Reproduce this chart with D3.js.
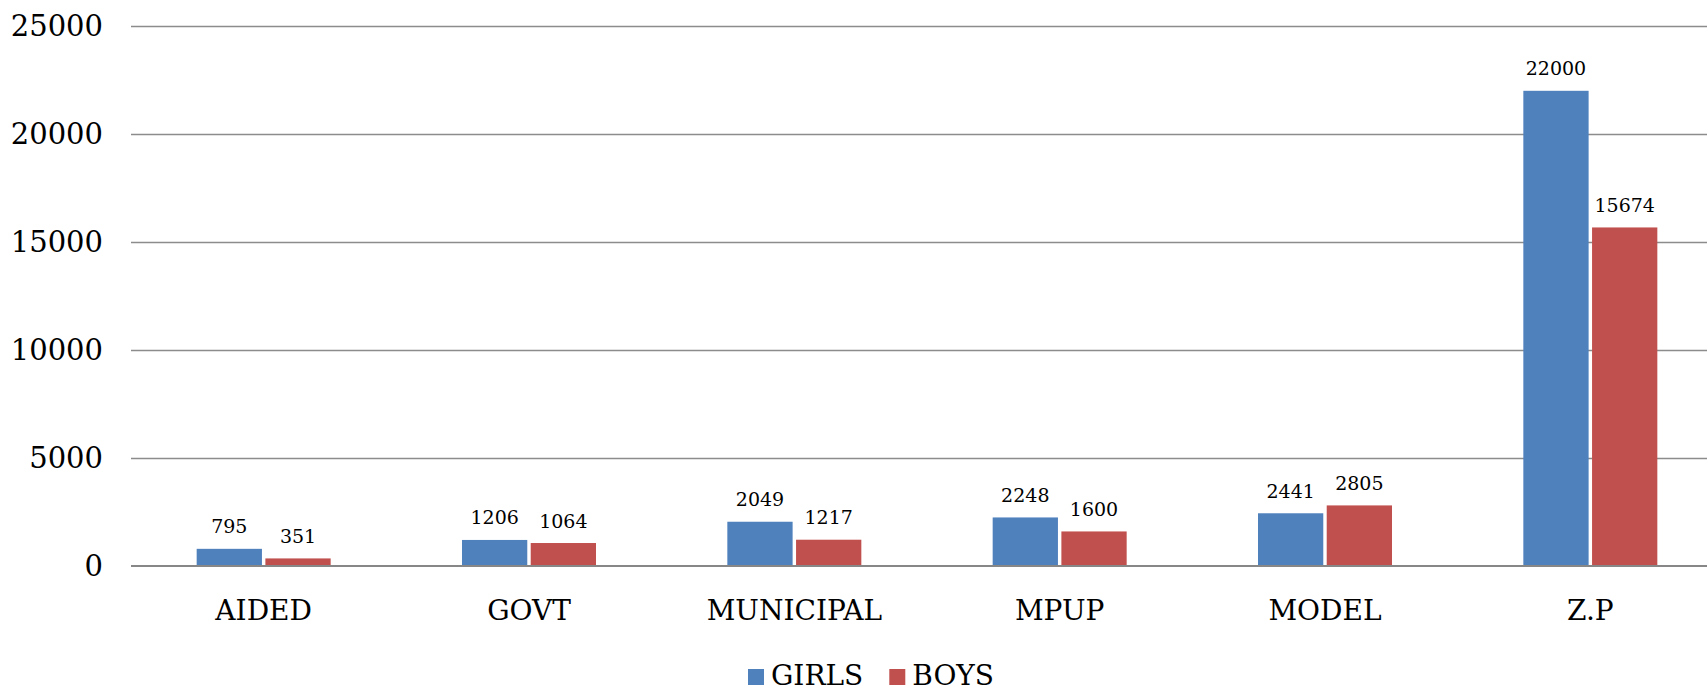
<!DOCTYPE html>
<html>
<head>
<meta charset="utf-8">
<script src="https://cdn.jsdelivr.net/npm/d3@7"></script>
<style>
    html, body { margin: 0; padding: 0; background: #fff; overflow: hidden; }
    text { font-family: 'DejaVu Serif', serif; fill: #000; }
</style>
</head>
<body>
<div id="chart"></div>
<script>
var categories = ['AIDED', 'GOVT', 'MUNICIPAL', 'MPUP', 'MODEL', 'Z.P'];
var series = ['GIRLS', 'BOYS'];
var girls = [795, 1206, 2049, 2248, 2441, 22000];
var boys = [351, 1064, 1217, 1600, 2805, 15674];
var yTicks = [0, 5000, 10000, 15000, 20000, 25000];

var colors = {GIRLS: '#4f81bd', BOYS: '#c0504d'};
var values = {GIRLS: girls, BOYS: boys};

var width = 1707, height = 692;

var svg = d3.select('#chart').append('svg').attr('width', width).attr('height', height);

// step is ~265px, bars in a pair are ~65px with a small gap
var x0 = d3.scaleBand().domain(categories).range([131, 1723]).paddingInner(0.495).paddingOuter(0.2475);
var x1 = d3.scaleBand().domain(series).range([0, x0.bandwidth()]).paddingInner(0.05);
var y = d3.scaleLinear().domain([0, 25000]).range([566, 26]);

// gridlines
svg.append('g').selectAll('line')
    .data(yTicks.filter(function(d){ return d > 0; }))
    .enter().append('line')
    .attr('x1', 131).attr('x2', width)
    .attr('y1', function(d){ return Math.round(y(d)) + 0.5; })
    .attr('y2', function(d){ return Math.round(y(d)) + 0.5; })
    .attr('stroke', '#8c8c8c').attr('stroke-width', 1.5);

// y axis labels
var yAxis = svg.append('g').attr('transform', 'translate(103,0)')
    .call(d3.axisLeft(y).tickValues(yTicks).tickFormat(d3.format('d')).tickSize(0).tickPadding(0));
yAxis.select('.domain').remove();
yAxis.selectAll('text').style('font-family', "'DejaVu Serif', serif").style('font-size', '29px').attr('fill', '#000');

// bars
var rows = categories.map(function(c, i){
    return {cat: c, vals: series.map(function(s){ return {key: s, value: values[s][i]}; })};
});

var groups = svg.append('g').selectAll('g')
    .data(rows).enter().append('g')
    .attr('transform', function(d){ return 'translate(' + x0(d.cat) + ',0)'; });

groups.selectAll('rect')
    .data(function(d){ return d.vals; })
    .enter().append('rect')
    .attr('x', function(d){ return x1(d.key); })
    .attr('width', x1.bandwidth())
    .attr('y', function(d){ return y(d.value); })
    .attr('height', function(d){ return y(0) - y(d.value); })
    .attr('fill', function(d){ return colors[d.key]; });

groups.selectAll('text.val')
    .data(function(d){ return d.vals; })
    .enter().append('text').attr('class', 'val')
    .attr('x', function(d){ return x1(d.key) + x1.bandwidth() / 2; })
    .attr('y', function(d){ return y(d.value) - 15.5; })
    .attr('text-anchor', 'middle')
    .style('font-size', '19px')
    .text(function(d){ return d.value; });

// zero line
svg.append('line')
    .attr('x1', 131).attr('x2', width)
    .attr('y1', y(0)).attr('y2', y(0))
    .attr('stroke', '#878787').attr('stroke-width', 2);

// category labels
var xAxis = svg.append('g').attr('transform', 'translate(0,' + y(0) + ')')
    .call(d3.axisBottom(x0).tickSize(0).tickPadding(0));
xAxis.select('.domain').remove();
xAxis.selectAll('text').attr('dy', null).attr('y', 54)
    .style('font-family', "'DejaVu Serif', serif").style('font-size', '28px').attr('fill', '#000');

// legend
var legend = svg.append('g').attr('transform', 'translate(748,0)');
var lx = 0;
series.forEach(function(s){
    legend.append('rect').attr('x', lx).attr('y', 669).attr('width', 16).attr('height', 16).attr('fill', colors[s]);
    var t = legend.append('text').attr('x', lx + 23).attr('y', 684.5).style('font-size', '28px').text(s);
    lx += 23 + t.node().getComputedTextLength() + 26;
});
</script>
</body>
</html>
